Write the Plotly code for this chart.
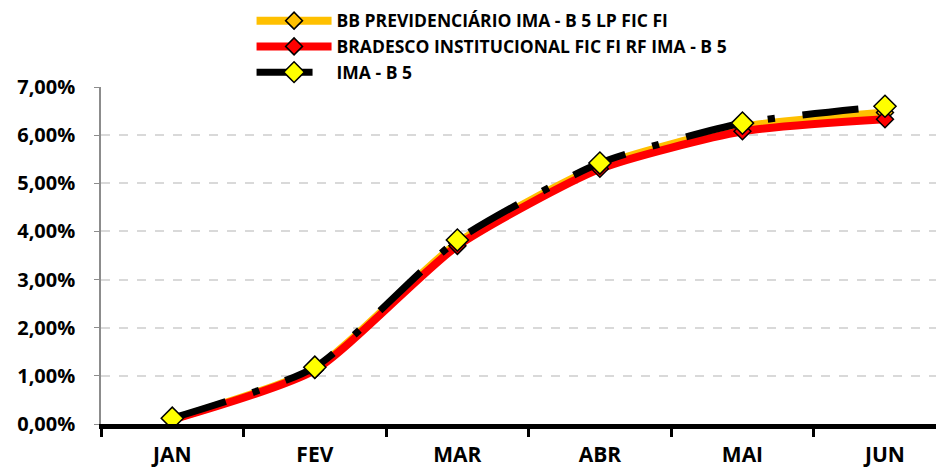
import plotly.graph_objects as go

meses = ["JAN", "FEV", "MAR", "ABR", "MAI", "JUN"]

bb_prev = [0.10, 1.15, 3.76, 5.36, 6.17, 6.47]
bradesco = [0.09, 1.12, 3.70, 5.30, 6.08, 6.33]
ima_b5 = [0.12, 1.18, 3.82, 5.42, 6.25, 6.60]

y_ticks = [0, 1, 2, 3, 4, 5, 6, 7]
y_labels = [f"{v:.2f}%".replace(".", ",") for v in y_ticks]

fonte = "Open Sans"

fig = go.Figure()

fig.add_trace(go.Scatter(
    x=meses, y=bb_prev, name="BB PREVIDENCIÁRIO IMA - B 5 LP FIC FI",
    mode="lines+markers",
    line=dict(color="#FFC000", width=8, shape="spline", smoothing=0.6),
    marker=dict(symbol="diamond", size=13, color="#FFC000",
                line=dict(color="black", width=1.5)),
))
fig.add_trace(go.Scatter(
    x=meses, y=bradesco, name="BRADESCO INSTITUCIONAL FIC FI RF IMA - B 5",
    mode="lines+markers",
    line=dict(color="#FF0000", width=8, shape="spline", smoothing=0.6),
    marker=dict(symbol="diamond", size=13, color="#FF0000",
                line=dict(color="black", width=1.5)),
))
fig.add_trace(go.Scatter(
    x=meses, y=ima_b5, name="IMA - B 5",
    mode="lines+markers",
    line=dict(color="black", width=7, shape="spline", smoothing=0.6,
              dash="56px,28px,7px,28px"),
    marker=dict(symbol="diamond", size=17, color="#FFFF00",
                line=dict(color="black", width=1.5)),
))

# a página html tem 8px de margem no body
fig.update_layout(
    width=944, height=468,
    margin=dict(l=93, r=0, t=79, b=52, autoexpand=False),
    paper_bgcolor="white", plot_bgcolor="white",
    font=dict(family=fonte, color="black"),
    showlegend=True,
    legend=dict(
        x=0.258, xref="container", xanchor="left",
        y=1.25, yref="paper", yanchor="top",
        font=dict(family=fonte, size=17.5, color="black", weight="bold"),
        itemwidth=75, tracegroupgap=0, bgcolor="rgba(0,0,0,0)",
    ),
    xaxis=dict(
        type="category", range=[-0.5, 5.47], automargin=False,
        showline=True, linecolor="black", linewidth=5,
        ticks="outside", tickson="boundaries", ticklen=8, tickwidth=3,
        tickcolor="black", showgrid=False, ticklabelstandoff=8,
        tickfont=dict(family=fonte, size=21, color="black", weight="bold"),
    ),
    yaxis=dict(
        range=[0, 7], tickvals=y_ticks, ticktext=y_labels, automargin=False,
        showline=True, linecolor="#8c8c8c", linewidth=1.5,
        ticks="outside", ticklen=5, tickcolor="#8c8c8c",
        showgrid=True, gridcolor="#d9d9d9", gridwidth=1.5, griddash="dash",
        zeroline=False, ticklabelstandoff=15,
        tickfont=dict(family=fonte, size=20, color="black", weight="bold"),
    ),
)

fig.write_html("out.html")
